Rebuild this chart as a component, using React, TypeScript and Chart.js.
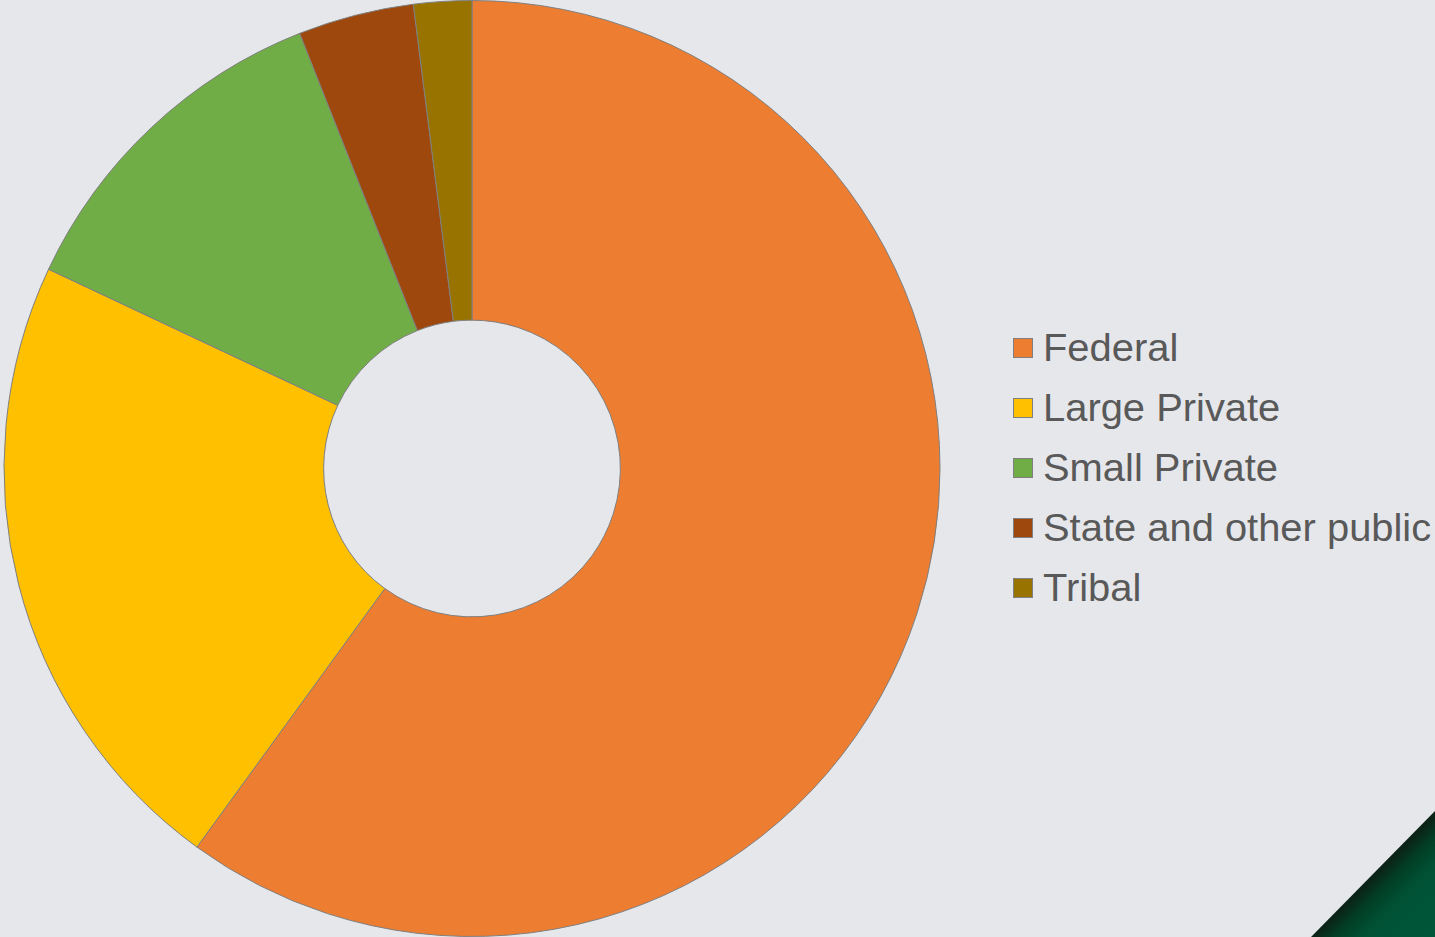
import React, { useEffect, useRef } from "react";
import { Chart, registerables } from "chart.js";

Chart.register(...registerables);

const categories = ["Federal", "Large Private", "Small Private", "State and other public", "Tribal"];
const shares = [60, 22, 12, 4, 2];
const colors = ["#ED7D31", "#FFC000", "#70AD47", "#9E480E", "#997300"];

const BG = "#E6E7EB";

export default function App() {
  const ref = useRef<HTMLCanvasElement | null>(null);

  useEffect(() => {
    document.body.style.margin = "0";
    const canvas = ref.current;
    if (!canvas) return;
    const chart = new Chart(canvas, {
      type: "doughnut",
      data: {
        labels: categories,
        datasets: [
          {
            data: shares,
            backgroundColor: colors,
            borderColor: "#7F7F7F",
            borderWidth: 1,
          },
        ],
      },
      options: {
        responsive: false,
        animation: false,
        cutout: "31.7%",
        layout: { padding: 0 },
        plugins: {
          legend: { display: false },
          tooltip: { enabled: false },
        },
      },
    });
    return () => chart.destroy();
  }, []);

  return (
    <div
      style={{
        position: "fixed",
        left: 0,
        top: 0,
        width: 1435,
        height: 937,
        background: BG,
        overflow: "hidden",
        fontFamily: "'Liberation Sans', Arial, sans-serif",
      }}
    >
      <div
        style={{
          position: "absolute",
          left: 0,
          top: 0,
          width: 1435,
          height: 937,
          clipPath: "polygon(1311px 937px, 1435px 811px, 1435px 937px)",
          background:
            "linear-gradient(135deg, #0a2418 0%, #0a2418 94.9%, #023f27 95.8%, #005235 97%, #00573A 100%)",
        }}
      />
      <canvas ref={ref} width={944} height={937} style={{ position: "absolute", left: 0, top: 0 }} />
      <div style={{ position: "absolute", left: 1013, top: 318 }}>
        {categories.map((c, i) => (
          <div key={c} style={{ display: "flex", alignItems: "center", height: 60, whiteSpace: "nowrap" }}>
            <div
              style={{
                width: 18,
                height: 18,
                background: colors[i],
                border: "1px solid #7F7F7F",
                marginRight: 10,
                flex: "none",
              }}
            />
            <span
              style={{
                fontSize: 38,
                color: "#595959",
                lineHeight: "60px",
                display: "inline-block",
                transform: "scaleX(1.05)",
                transformOrigin: "left center",
              }}
            >
              {c}
            </span>
          </div>
        ))}
      </div>
    </div>
  );
}
